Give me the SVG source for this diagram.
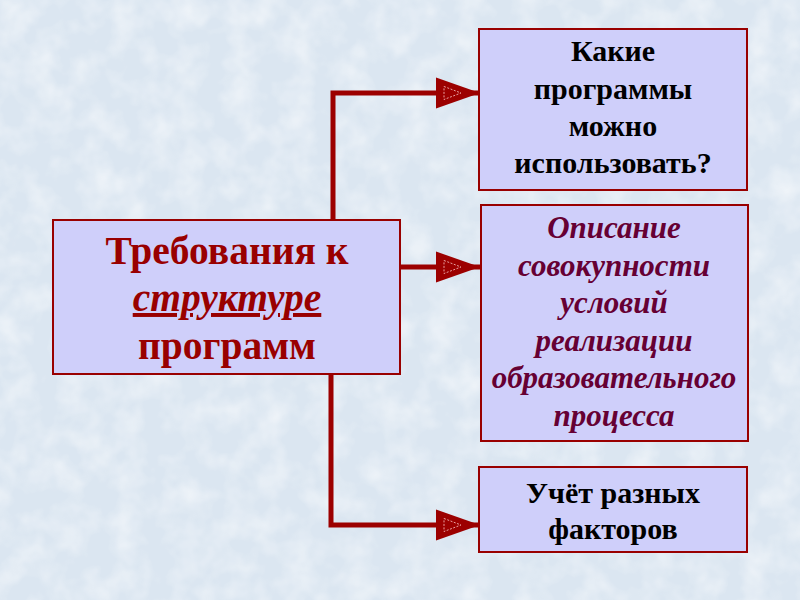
<svg xmlns="http://www.w3.org/2000/svg" width="800" height="600" viewBox="0 0 800 600">
  <defs>
    <style>
      .box { fill: #cfcffa; stroke: #990000; stroke-width: 2; }
      .conn { fill: none; stroke: #9c0000; stroke-width: 5; stroke-linejoin: miter; }
      .t { font-family: "Liberation Serif", "Times New Roman", serif; font-weight: bold; text-anchor: middle; }
      .main { font-size: 39.5px; fill: #990000; }
      .rb { font-size: 30px; fill: #000000; }
      .ri { font-size: 31px; fill: #660033; font-style: italic; }
    </style>
    <filter id="snow" x="0" y="0" width="100%" height="100%">
      <feTurbulence type="fractalNoise" baseFrequency="0.035" numOctaves="3" seed="4" result="n"/>
      <feColorMatrix in="n" type="matrix" values="0 0 0 0 1  0 0 0 0 1  0 0 0 0 1  0 0 0 -1.6 1.0" />
    </filter>
    <marker id="arr" markerUnits="userSpaceOnUse" markerWidth="46" markerHeight="33" viewBox="0 0 46 33" refX="45" refY="16" orient="auto">
      <polygon points="1,0.5 45,16 1,31.5" fill="#9c0000"/>
      <polygon points="9,9.5 26,16 9,22.5" fill="none" stroke="#e8a0a0" stroke-width="1" stroke-dasharray="2,1.5"/>
    </marker>
  </defs>

  <rect x="0" y="0" width="800" height="600" fill="#dbe6f1"/>
  <rect x="0" y="0" width="800" height="600" filter="url(#snow)" opacity="0.6"/>

  <g id="connectors">
    <path class="conn" d="M333,220 V93 H480" marker-end="url(#arr)"/>
    <path class="conn" d="M400,267 H480" marker-end="url(#arr)"/>
    <path class="conn" d="M331,374 V525 H480" marker-end="url(#arr)"/>
  </g>

  <g id="node-main">
    <rect class="box" x="53" y="220" width="347" height="154"/>
    <text class="t main" x="227" y="264">Требования к</text>
    <text class="t main" x="227" y="311" font-style="italic" text-decoration="underline">структуре</text>
    <text class="t main" x="227" y="359">программ</text>
  </g>

  <g id="node-programs">
    <rect class="box" x="479" y="29" width="268" height="161"/>
    <text class="t rb" x="613" y="61">Какие</text>
    <text class="t rb" x="613" y="99">программы</text>
    <text class="t rb" x="613" y="136">можно</text>
    <text class="t rb" x="613" y="173">использовать?</text>
  </g>

  <g id="node-description">
    <rect class="box" x="481" y="205" width="267" height="236"/>
    <text class="t ri" x="614" y="238">Описание</text>
    <text class="t ri" x="614" y="276">совокупности</text>
    <text class="t ri" x="614" y="313">условий</text>
    <text class="t ri" x="614" y="351">реализации</text>
    <text class="t ri" x="614" y="388">образовательного</text>
    <text class="t ri" x="614" y="426">процесса</text>
  </g>

  <g id="node-factors">
    <rect class="box" x="479" y="467" width="268" height="85"/>
    <text class="t rb" x="613" y="503">Учёт разных</text>
    <text class="t rb" x="613" y="539">факторов</text>
  </g>
</svg>
